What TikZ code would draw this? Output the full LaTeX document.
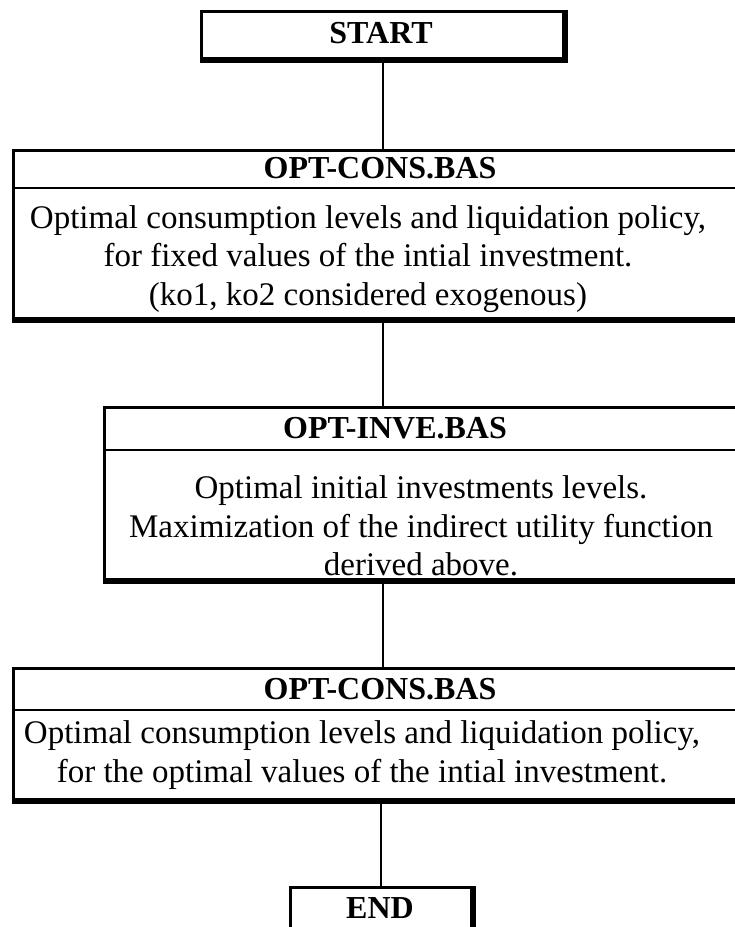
\documentclass[tikz,border=0pt]{standalone}
\usepackage{fontspec}
\setmainfont{Liberation Serif}
\begin{document}
\begin{tikzpicture}[x=1pt,y=1pt,
  frame/.style={draw, line width=3pt, rectangle, inner sep=0pt, anchor=north west},
  heavy/.style={line width=5pt},
  divider/.style={line width=2.5pt},
  title/.style={font=\bfseries\fontsize{32}{36}\selectfont, inner sep=0pt},
  body/.style={font=\fontsize{33}{38.5}\selectfont, align=center, inner sep=0pt},
  link/.style={line width=2pt}]
\useasboundingbox (0,0) rectangle (735,-927);
\clip (0,0) rectangle (735,-927);

% frames
\node[frame, minimum width=362, minimum height=47] (start) at (200,-10) {};
\node[frame, minimum width=740, minimum height=168] (box1) at (12,-149) {};
\node[frame, minimum width=650, minimum height=172] (box2) at (103,-406) {};
\node[frame, minimum width=740, minimum height=131] (box3) at (12,-667) {};
\node[frame, minimum width=181, minimum height=60] (end) at (289,-886) {};

% heavier bottom and right edges
\foreach \b in {start,box1,box2,box3,end}
  \draw[heavy] (\b.south west) -- (\b.south east) -- (\b.north east);

% title rows
\draw[divider] ([yshift=-39]box1.north west) -- ([yshift=-39]box1.north east);
\draw[divider] ([yshift=-44]box2.north west) -- ([yshift=-44]box2.north east);
\draw[divider] ([yshift=-43]box3.north west) -- ([yshift=-43]box3.north east);

% connectors
\draw[link] (start.south) -- (start.south |- box1.north);
\draw[link] (box1.south -| start.south) -- (start.south |- box2.north);
\draw[link] (box2.south -| start.south) -- (start.south |- box3.north);
\draw[link] (box3.south -| end.north) -- (end.north);

% labels
\node[title] (tstart) at (381,-33) {START};
\node[title] (t1) at (380,-168) {OPT-CONS.BAS};
\node[body] (b1) at (368,-259)
  {Optimal consumption levels and liquidation policy,\\
   for fixed values of the intial investment.\\
   (ko1, ko2 considered exogenous)};
\node[title] (t2) at (395,-428) {OPT-INVE.BAS};
\node[body] (b2) at (421,-526)
  {Optimal initial investments levels.\\
   Maximization of the indirect utility function\\
   derived above.};
\node[title] (t3) at (380,-689) {OPT-CONS.BAS};
\node[body] (b3) at (362,-755)
  {Optimal consumption levels and liquidation policy,\\
   for the optimal values of the intial investment.};
\node[title] (tend) at (380,-908) {END};
\end{tikzpicture}
\end{document}
